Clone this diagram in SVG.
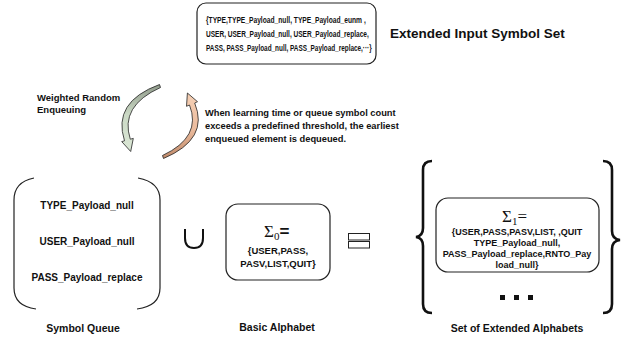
<svg xmlns="http://www.w3.org/2000/svg" width="635" height="345" viewBox="0 0 635 345">
<style>
.t{font-family:"Liberation Sans",Arial,sans-serif;font-weight:bold;fill:#111;}
.box{fill:#fff;stroke:#222;stroke-width:1.2;}
.ln{fill:none;stroke:#222;stroke-width:1.2;}
.br{fill:none;stroke:#111;stroke-width:2.6;stroke-linejoin:miter;}
.sig{font-family:"Liberation Serif","Times New Roman",serif;fill:#111;}
</style>
<defs>
<linearGradient id="gG" x1="0" y1="0" x2="0" y2="1">
<stop offset="0" stop-color="#8f9a8a"/><stop offset="0.45" stop-color="#cbd9c5"/><stop offset="1" stop-color="#dbe7d6"/>
</linearGradient>
<linearGradient id="gO" x1="0" y1="1" x2="0" y2="0">
<stop offset="0" stop-color="#c08a6a"/><stop offset="0.45" stop-color="#ebbb9d"/><stop offset="1" stop-color="#f5d0b5"/>
</linearGradient>
</defs>
<rect width="635" height="345" fill="#fff"/>
<g id="connectors">
<path d="M159.5,84.5 Q112,102 124.5,140.8 L121.7,141.6 L130.7,151.5 L133.3,138.4 L130.3,139.2 Q119.5,106 160.5,87.5 Z" fill="url(#gG)" stroke="#222" stroke-width="0.8"/>
<path d="M162.5,155.5 Q202,137 189.5,105 L186.5,106.3 L187.4,93 L197.5,101.7 L194.7,103 Q209.5,139 163.5,158.5 Z" fill="url(#gO)" stroke="#222" stroke-width="0.8"/>
</g>
<g id="extended-input">
<rect class="box" x="197" y="3" width="179" height="61" rx="9"/>
<g transform="translate(206,0) scale(0.75,1)">
<text class="t" font-size="8.8" x="0" y="23" textLength="213" lengthAdjust="spacingAndGlyphs">{TYPE,TYPE_Payload_null, TYPE_Payload_eunm ,</text>
<text class="t" font-size="8.8" x="0" y="37" textLength="217" lengthAdjust="spacingAndGlyphs">USER, USER_Payload_null, USER_Payload_replace,</text>
<text class="t" font-size="8.8" x="0" y="51" textLength="221" lengthAdjust="spacingAndGlyphs">PASS, PASS_Payload_null, PASS_Payload_replace,···}</text>
</g>
<text class="t" font-size="13.5" x="390" y="38">Extended Input Symbol Set</text>
</g>
<g id="enqueue-label">
<text class="t" font-size="9.5" x="37" y="101">Weighted Random</text>
<text class="t" font-size="9.5" x="37" y="113">Enqueuing</text>
</g>
<g id="dequeue-label">
<text class="t" font-size="9.3" x="205" y="116">When learning time or queue symbol count</text>
<text class="t" font-size="9.3" x="205" y="129">exceeds a predefined threshold, the earliest</text>
<text class="t" font-size="9.3" x="205" y="142">enqueued element is dequeued.</text>
</g>
<g id="symbol-queue">
<path class="ln" d="M34,178 Q14,182 14,200 L14,288 Q14,306 36,309"/>
<path class="ln" d="M138,178 Q160,182 160,200 L160,288 Q160,306 137,309"/>
<text class="t" font-size="10" x="87" y="209" text-anchor="middle">TYPE_Payload_null</text>
<text class="t" font-size="10" x="87" y="245" text-anchor="middle">USER_Payload_null</text>
<text class="t" font-size="10" x="87" y="281" text-anchor="middle">PASS_Payload_replace</text>
<text class="t" font-size="10.5" x="83" y="332" text-anchor="middle">Symbol Queue</text>
</g>
<g id="union">
<path d="M185,229 L185,238 Q185,248 194,248 Q203,248 203,238 L203,229" fill="none" stroke="#111" stroke-width="2"/>
</g>
<g id="basic-alphabet">
<rect class="box" x="226" y="204" width="104" height="76" rx="12"/>
<text class="sig" font-size="17" x="264" y="237">Σ<tspan font-size="11" dy="3">0</tspan><tspan font-family="Liberation Sans,Arial,sans-serif" font-weight="bold" font-size="17" dy="-3">=</tspan></text>
<text class="t" font-size="9.5" x="278" y="254" text-anchor="middle">{USER,PASS,</text>
<text class="t" font-size="9.5" x="278" y="267" text-anchor="middle">PASV,LIST,QUIT}</text>
<text class="t" font-size="10.5" x="277" y="331" text-anchor="middle">Basic Alphabet</text>
</g>
<g id="equivalence">
<rect x="348.5" y="233.5" width="21" height="6.5" fill="#fff" stroke="#222" stroke-width="1"/>
<rect x="348.5" y="241.5" width="21" height="6.5" fill="#fff" stroke="#222" stroke-width="1"/>
</g>
<g id="extended-alphabets">
<path class="br" d="M432,161 Q423,161 423,170 L423,228 Q423,236 416,237 Q423,238 423,246 L423,304 Q423,313 432,313"/>
<path class="br" d="M603,161 Q612,161 612,170 L612,231 Q612,239 620,240 Q612,241 612,249 L612,304 Q612,313 603,313"/>
<rect class="box" x="436" y="198" width="163" height="74" rx="12"/>
<text class="sig" font-size="17" x="502" y="222">Σ<tspan font-size="11" dy="3">1</tspan><tspan dy="-3">=</tspan></text>
<text class="t" font-size="9" x="517" y="235" text-anchor="middle">{USER,PASS,PASV,LIST, ,QUIT</text>
<text class="t" font-size="9" x="517" y="246" text-anchor="middle">TYPE_Payload_null,</text>
<text class="t" font-size="9" x="517" y="257" text-anchor="middle">PASS_Payload_replace,RNTO_Pay</text>
<text class="t" font-size="9" x="517" y="268" text-anchor="middle">load_null}</text>
<rect x="500" y="295" width="5" height="5" fill="#111"/>
<rect x="514" y="295" width="5" height="5" fill="#111"/>
<rect x="528" y="295" width="5" height="5" fill="#111"/>
<text class="t" font-size="10.5" x="517" y="332" text-anchor="middle">Set of Extended Alphabets</text>
</g>
</svg>
